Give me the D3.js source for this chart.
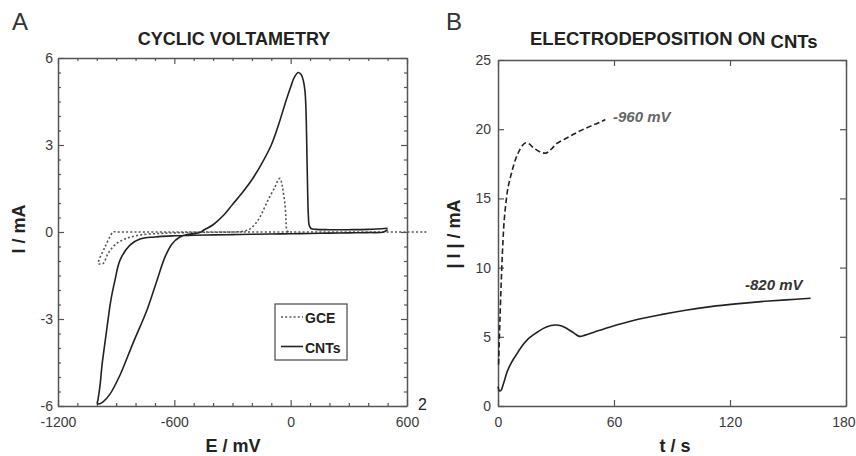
<!DOCTYPE html>
<html>
<head>
<meta charset="utf-8">
<script src="https://cdn.jsdelivr.net/npm/d3@7"></script>
<style>
  html, body { margin: 0; padding: 0; background: #fff; }
  svg { display: block; font-family: "Liberation Sans", Arial, sans-serif; }
</style>
</head>
<body>
<script>
// ---- Panel A: cyclic voltammetry (E in mV, I in mA) ----
// CNTs: cathodic sweep from +500 to -1000 mV, then anodic return to +500 mV
const cntsE = [500, 480, 400, 300, 200, 100, 0, -100, -200, -300, -400, -500, -600, -700, -777, -829, -880, -906, -927, -947, -963, -973, -983, -994, -997,
               -990, -968, -932, -880, -813, -741, -689, -648, -612, -571, -519, -468, -450, -400, -350, -300, -250, -200, -150, -100, -60, -30, 0, 20, 40, 55, 66, 74, 79, 83, 87, 91, 96, 105, 130, 200, 300, 400, 500];
const cntsI = [0.08, 0.0, -0.02, -0.03, -0.04, -0.05, -0.06, -0.07, -0.08, -0.09, -0.1, -0.11, -0.13, -0.17, -0.24, -0.45, -0.97, -1.66, -2.34, -3.28, -4.07, -4.59, -5.28, -5.79, -5.9,
               -5.93, -5.86, -5.59, -4.93, -3.83, -2.69, -1.66, -0.86, -0.41, -0.17, -0.07, -0.02, 0.06, 0.25, 0.55, 0.95, 1.35, 1.8, 2.35, 3.0, 3.75, 4.4, 5.0, 5.35, 5.5, 5.42, 5.2, 4.85, 4.2, 3.0, 1.6, 0.6, 0.22, 0.12, 0.09, 0.08, 0.08, 0.09, 0.13];

// GCE: same sweep on the bare electrode
const gceE = [700, 600, 400, 200, 0, -200, -400, -600, -800, -900, -915, -958, -992, -980, -966, -941, -897, -846, -777, -674, -600, -468, -300, -250, -210, -180, -158, -117, -81, -65, -55, -45, -40, -29, -24, -19, -10];
const gceI = [0, 0, 0, 0, 0, 0, 0, 0, 0, 0, 0, -0.52, -1.09, -1.1, -1.08, -0.73, -0.39, -0.22, -0.1, -0.05, -0.03, -0.01, 0.0, 0.02, 0.1, 0.3, 0.52, 1.1, 1.55, 1.78, 1.85, 1.65, 1.45, 0.93, 0.41, 0.05, 0.0];

const xTicksA = [-1200, -600, 0, 600];
const yTicksA = [-6, -3, 0, 3, 6];
const legendLabels = ["GCE", "CNTs"];

// ---- Panel B: chronoamperometry, |I| (mA) vs t (s) ----
const t960 = [0.3, 1.0, 1.9, 2.6, 3.2, 4.2, 5.2, 6.2, 7.5, 9, 10.5, 12, 14, 16, 18, 20.5, 23, 25, 27.5, 30.3, 34, 38, 42, 46, 50, 53.5, 55.5];
const i960 = [3.0, 6.2, 9.8, 12.0, 13.4, 14.8, 15.8, 16.4, 17.1, 17.8, 18.3, 18.7, 19.0, 18.95, 18.7, 18.45, 18.3, 18.28, 18.55, 18.95, 19.25, 19.55, 19.85, 20.1, 20.35, 20.55, 20.7];

const t820 = [0, 0.7, 1.5, 2.8, 4.8, 6.8, 9, 12, 16, 20.7, 25, 29.5, 33, 36.2, 39.5, 42.2, 45, 50, 58.4, 70, 84.3, 97, 110, 123, 136, 149, 161.7];
const i820 = [1.4, 1.1, 1.12, 1.6, 2.5, 3.1, 3.6, 4.25, 4.9, 5.37, 5.7, 5.85, 5.78, 5.55, 5.25, 5.03, 5.12, 5.35, 5.73, 6.18, 6.6, 6.92, 7.18, 7.38, 7.54, 7.67, 7.78];

const xTicksB = [0, 60, 120, 180];
const yTicksB = [0, 5, 10, 15, 20, 25];

const zip = (a, b) => a.map((v, i) => [v, b[i]]);
const plainNumber = d => String(d);

const W = 856, H = 456;
const svg = d3.select("body").append("svg").attr("width", W).attr("height", H);

const frameColor = "#555";
const inkColor = "#222";
const labelColor = "#3a3a3a";

function styleAxis(g, showText) {
  g.select(".domain").attr("stroke", frameColor).attr("stroke-width", 1.5);
  g.selectAll(".tick line").attr("stroke", frameColor).attr("stroke-width", 1.2);
  g.selectAll(".tick text").attr("fill", labelColor).style("font-size", "14px")
    .style("font-family", "'Liberation Sans', Arial, sans-serif");
  if (!showText) g.selectAll(".tick text").remove();
}

function frame(x, y, xMajor, yMajor, xMinor, yMinor, xPad, yPad) {
  const [x0, x1] = x.range();
  const [y0, y1] = y.range();
  const bottom = svg.append("g").attr("transform", `translate(0,${y0})`)
    .call(d3.axisBottom(x).tickValues(xMajor).tickSize(-6).tickSizeOuter(0).tickPadding(xPad).tickFormat(plainNumber));
  styleAxis(bottom, true);
  const top = svg.append("g").attr("transform", `translate(0,${y1})`)
    .call(d3.axisTop(x).tickValues(xMajor).tickSize(-6).tickSizeOuter(0));
  styleAxis(top, false);
  const left = svg.append("g").attr("transform", `translate(${x0},0)`)
    .call(d3.axisLeft(y).tickValues(yMajor).tickSize(-6).tickSizeOuter(0).tickPadding(yPad).tickFormat(plainNumber));
  styleAxis(left, true);
  const right = svg.append("g").attr("transform", `translate(${x1},0)`)
    .call(d3.axisRight(y).tickValues(yMajor).tickSize(-6).tickSizeOuter(0));
  styleAxis(right, false);
  if (xMinor) {
    [[d3.axisBottom, y0], [d3.axisTop, y1]].forEach(([ax, ty]) => {
      const g = svg.append("g").attr("transform", `translate(0,${ty})`)
        .call(ax(x).tickValues(xMinor).tickSize(-3).tickSizeOuter(0));
      styleAxis(g, false);
      g.select(".domain").remove();
    });
  }
  if (yMinor) {
    [[d3.axisLeft, x0], [d3.axisRight, x1]].forEach(([ax, tx]) => {
      const g = svg.append("g").attr("transform", `translate(${tx},0)`)
        .call(ax(y).tickValues(yMinor).tickSize(-3).tickSizeOuter(0));
      styleAxis(g, false);
      g.select(".domain").remove();
    });
  }
  return bottom;
}

// ===== Panel A =====
const xA = d3.scaleLinear().domain([-1200, 600]).range([58, 407]);
const yA = d3.scaleLinear().domain([-6, 6]).range([406, 58]);

const xMinorA = d3.range(-1100, 600, 100).filter(v => v % 600 !== 0);
const yMinorA = d3.range(-5.5, 6, 0.5).filter(v => Math.abs(v % 3) > 1e-9);
frame(xA, yA, xTicksA, yTicksA, xMinorA, yMinorA, 11, 5);

const lineA = d3.line().x(d => xA(d[0])).y(d => yA(d[1])).curve(d3.curveCatmullRom.alpha(0.5));

svg.append("path").datum(zip(gceE, gceI)).attr("d", lineA)
  .attr("fill", "none").attr("stroke", "#555").attr("stroke-width", 1.6)
  .attr("stroke-dasharray", "2,2.2");

svg.append("path").datum(zip(cntsE, cntsI)).attr("d", lineA)
  .attr("fill", "none").attr("stroke", inkColor).attr("stroke-width", 1.6)
  .attr("stroke-linejoin", "round");

// legend
const lg = svg.append("g").attr("transform", "translate(275,304)");
lg.append("rect").attr("width", 72).attr("height", 56)
  .attr("fill", "#fff").attr("stroke", frameColor).attr("stroke-width", 1.3);
const legendStyles = [{ dash: "2,2.2", stroke: "#555" }, { dash: null, stroke: inkColor }];
legendLabels.forEach((lab, i) => {
  const cy = 13 + i * 29.5;
  lg.append("line").attr("x1", 6).attr("x2", 28).attr("y1", cy).attr("y2", cy)
    .attr("stroke", legendStyles[i].stroke).attr("stroke-width", 1.6)
    .attr("stroke-dasharray", legendStyles[i].dash);
  lg.append("text").attr("x", 30).attr("y", cy + 6).text(lab)
    .attr("font-weight", "bold").attr("font-size", 14).attr("fill", inkColor);
});

// titles and axis names
svg.append("text").attr("x", 12).attr("y", 30).text("A")
  .attr("font-size", 24).attr("fill", "#333");
svg.append("text").attr("x", 234).attr("y", 45).attr("text-anchor", "middle")
  .text("CYCLIC VOLTAMETRY").attr("font-weight", "bold").attr("font-size", 18).attr("fill", inkColor);
svg.append("text").attr("x", 233).attr("y", 452).attr("text-anchor", "middle")
  .text("E / mV").attr("font-weight", "bold").attr("font-size", 18).attr("fill", inkColor);
svg.append("text").attr("transform", "translate(25,229) rotate(-90)").attr("text-anchor", "middle")
  .text("I / mA").attr("font-weight", "bold").attr("font-size", 18).attr("fill", inkColor);
svg.append("text").attr("x", 418).attr("y", 410).text("2")
  .attr("font-size", 16).attr("fill", inkColor);

// ===== Panel B =====
const xB = d3.scaleLinear().domain([0, 180]).range([498, 846]);
const yB = d3.scaleLinear().domain([0, 25]).range([406, 60]);
const bottomB = frame(xB, yB, xTicksB, yTicksB, null, null, 11, 7);
// keep the last time label inside the page edge
bottomB.selectAll(".tick text").filter(d => d === 180).attr("text-anchor", "end").attr("x", 9);

const lineB = d3.line().x(d => xB(d[0])).y(d => yB(d[1])).curve(d3.curveCatmullRom.alpha(0.5));

svg.append("path").datum(zip(t960, i960)).attr("d", lineB)
  .attr("fill", "none").attr("stroke", inkColor).attr("stroke-width", 1.6)
  .attr("stroke-dasharray", "5.5,3");
svg.append("path").datum(zip(t820, i820)).attr("d", lineB)
  .attr("fill", "none").attr("stroke", inkColor).attr("stroke-width", 1.6);

svg.append("text").attr("x", 613).attr("y", 122).text("-960 mV")
  .attr("font-weight", "bold").attr("font-style", "italic").attr("font-size", 15).attr("fill", "#666");
svg.append("text").attr("x", 745).attr("y", 290).text("-820 mV")
  .attr("font-weight", "bold").attr("font-style", "italic").attr("font-size", 15).attr("fill", "#333");

svg.append("text").attr("x", 446).attr("y", 30).text("B")
  .attr("font-size", 24).attr("fill", "#333");
const tb = svg.append("text").attr("x", 530).attr("y", 45)
  .attr("font-weight", "bold").attr("font-size", 18.5).attr("fill", inkColor);
tb.append("tspan").text("ELECTRODEPOSITION ON ");
tb.append("tspan").attr("dy", 3).text("CNTs");
svg.append("text").attr("x", 675).attr("y", 452).attr("text-anchor", "middle")
  .text("t / s").attr("font-weight", "bold").attr("font-size", 18).attr("fill", inkColor);
svg.append("text").attr("transform", "translate(460,234) rotate(-90)").attr("text-anchor", "middle")
  .text("| I | / mA").attr("font-weight", "bold").attr("font-size", 18).attr("fill", inkColor);
</script>
</body>
</html>
